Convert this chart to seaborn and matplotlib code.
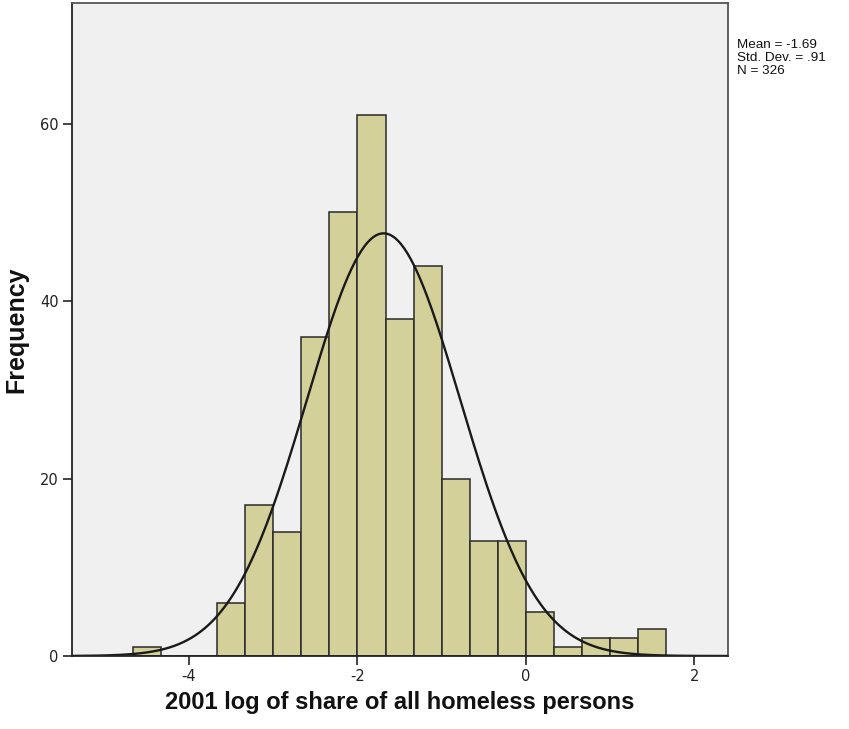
import numpy as np
import pandas as pd
import matplotlib
matplotlib.use("Agg")
import matplotlib.pyplot as plt
import seaborn as sns

# ---- data ----
bin_start = -14 / 3          # left edge of first bin
bin_width = 1 / 3
counts = [1, 0, 0, 6, 17, 14, 36, 50, 61, 38, 44, 20, 13, 13, 5, 1, 2, 2, 3]
mean_val = -1.69
sd_val = 0.91
n_val = 326
x_ticks = [-4, -2, 0, 2]
y_ticks = [0, 20, 40, 60]
x_label = "2001 log of share of all homeless persons"
y_label = "Frequency"
stats_lines = ["Mean = -1.69", "Std. Dev. = .91", "N = 326"]

edges = bin_start + bin_width * np.arange(len(counts) + 1)
centers = (edges[:-1] + edges[1:]) / 2
df = pd.DataFrame({"value": centers, "count": counts})

sns.set_theme(style="white")
plt.rcParams["font.family"] = ["Liberation Sans", "DejaVu Sans"]

W, H = 849, 729
fig = plt.figure(figsize=(W / 100, H / 100), dpi=100)
fig.patch.set_facecolor("white")
ax = fig.add_axes([72 / W, 1 - 656 / H, (728 - 72) / W, (656 - 3) / H])
ax.set_facecolor("#f0f0f0")

sns.histplot(data=df, x="value", weights="count", binwidth=bin_width,
             binrange=(float(edges[0]), float(edges[-1])), ax=ax,
             color="#d4d09a", edgecolor="#2a2a2a", linewidth=1.1, alpha=1.0)

xlim = (-5.39, 2.40)
xs = np.linspace(xlim[0], xlim[1], 400)
ys = n_val * bin_width * np.exp(-0.5 * ((xs - mean_val) / sd_val) ** 2) / (sd_val * np.sqrt(2 * np.pi))
sns.lineplot(x=xs, y=ys, ax=ax, color="#1a1a1a", linewidth=1.7)

ax.set_xlim(*xlim)
ax.set_ylim(0, 73.6)
ax.set_xticks(x_ticks)
ax.set_yticks(y_ticks)
ax.set_xticklabels([str(t) for t in x_ticks], family="DejaVu Sans", fontsize=10.5, color="#222222")
ax.set_yticklabels([str(t) for t in y_ticks], family="DejaVu Sans", fontsize=10.5, color="#222222")
ax.tick_params(axis="both", which="both", direction="out", length=6.5, width=1.2,
               color="#222222", pad=3, bottom=True, left=True)

for side in ["left", "bottom"]:
    ax.spines[side].set_color("#222222")
    ax.spines[side].set_linewidth(1.3)
for side in ["top", "right"]:
    ax.spines[side].set_visible(True)
    ax.spines[side].set_color("#555555")
    ax.spines[side].set_linewidth(1.3)

ax.set_xlabel(x_label, fontsize=17, fontweight="bold", color="#111111")
ax.set_ylabel(y_label, fontsize=18, fontweight="bold", color="#111111")
ax.xaxis.set_label_coords(0.5, (656 - 691) / 653)
ax.yaxis.set_label_coords((28 - 72) / 656, 0.5)

fig.text(737 / W, 1 - 39 / H, "\n".join(stats_lines), fontsize=9.7,
         va="top", ha="left", linespacing=1.12, color="#111111")

fig.savefig("out.png", dpi=100, facecolor="white")
